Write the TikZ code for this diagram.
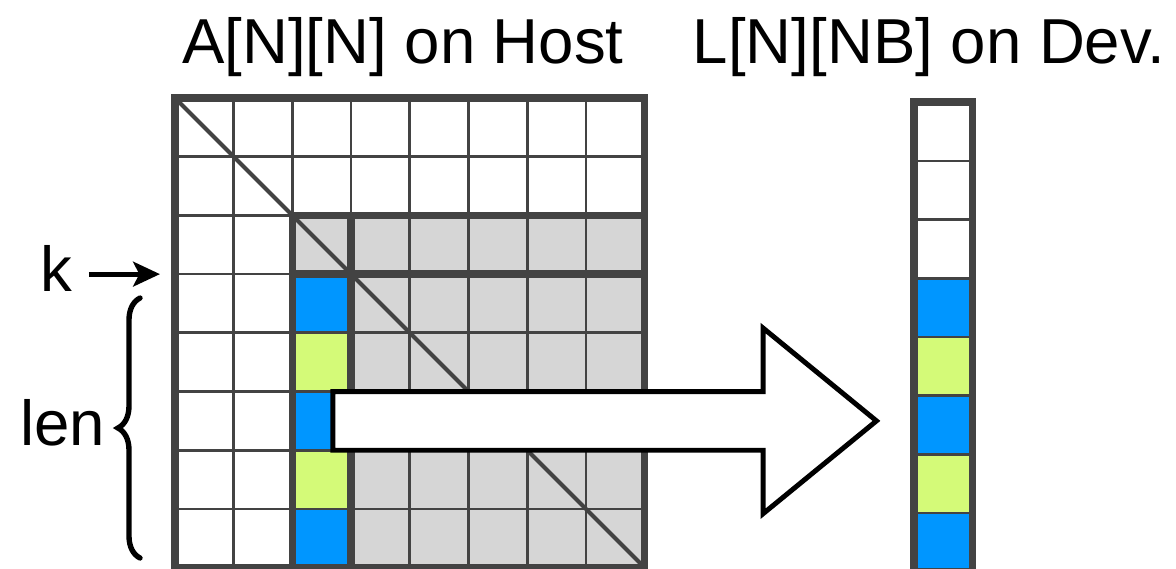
\documentclass[tikz,border=0pt]{standalone}
\usepackage{fontspec}
\setmainfont{Liberation Sans}
\usetikzlibrary{positioning,arrows.meta,decorations.pathreplacing}

\definecolor{gridline}{HTML}{434343}
\definecolor{trail}{HTML}{D6D6D6}
\definecolor{panelblue}{HTML}{0096FF}
\definecolor{panelgreen}{HTML}{D4FA78}

\begin{document}
\begin{tikzpicture}[
    cell/.style={
        draw=gridline,
        line width=1.3pt,
        minimum size=1cm,
        inner sep=0pt,
        outer sep=0pt
    },
    bluecell/.style={cell, fill=panelblue},
    greencell/.style={cell, fill=panelgreen},
    frame/.style={draw=gridline, line width=3.6pt},
    txt/.style={
        font=\fontsize{30.8}{37}\selectfont,
        inner sep=0pt,
        anchor=base
    },
    pointer/.style={
        line width=2.3pt,
        -{Stealth[length=13pt, width=12pt, inset=3pt]}
    },
    bigarrow/.style={draw=black, fill=white, line width=2.4pt, line join=miter}
]
    \useasboundingbox (-2.981,-8.007) rectangle (17.053,1.670);

    % --- Titles ---
    \node[txt] (host) at (3.884,0.596) {A[N][N] on Host};
    \node[txt] (dev) at (12.845,0.596) {L[N][NB] on Dev.};

    % --- A on host ---
    \fill[trail] (2,-2) rectangle (8,-8);
    \foreach \r/\col in {3/panelblue,4/panelgreen,5/panelblue,6/panelgreen,7/panelblue}
        \fill[\col] (2,-\r) rectangle (3,-\r-1);
    \foreach \r in {0,...,7}
        \foreach \c in {0,...,7}
            \node[cell] (a-\r-\c) at (\c+0.5,-\r-0.5) {};

    \draw[frame] (a-0-0.north west) rectangle (a-7-7.south east);
    \draw[frame] (a-2-2.north west) rectangle (a-7-7.south east);
    \draw[frame] (a-3-2.north west) -- (a-3-7.north east);
    \draw[frame] (a-2-2.north east) -- (a-7-2.south east);
    \draw[gridline, line width=2pt] (a-0-0.north west) -- (a-7-7.south east);

    % --- L on device ---
    \node[cell] (l-0) at (13.09,-0.57) {};
    \node[cell, below=0pt of l-0] (l-1) {};
    \node[cell, below=0pt of l-1] (l-2) {};
    \node[bluecell, below=0pt of l-2] (l-3) {};
    \node[greencell, below=0pt of l-3] (l-4) {};
    \node[bluecell, below=0pt of l-4] (l-5) {};
    \node[greencell, below=0pt of l-5] (l-6) {};
    \node[bluecell, below=0pt of l-6] (l-7) {};
    \draw[frame] (l-0.north west) rectangle (l-7.south east);

    % --- k and len ---
    \node[txt] (k) at (-2.015,-3.30) {k};
    \coordinate (kin) at (-0.256,-3);
    \draw[pointer, shorten <=0.27cm] (k.east |- kin) -- (kin);

    \node[txt] (len) at (-1.911,-5.911) {len};
    \draw[line width=2.6pt, line cap=round, decorate,
          decoration={brace, amplitude=0.375cm}]
        (-0.596,-7.836) -- (-0.596,-3.407);

    % --- copy to device ---
    \draw[bigarrow] (2.69,-5) -- (10.02,-5) -- (10.02,-3.92) -- (11.95,-5.5)
        -- (10.02,-7.08) -- (10.02,-6) -- (2.69,-6) -- cycle;
\end{tikzpicture}
\end{document}
